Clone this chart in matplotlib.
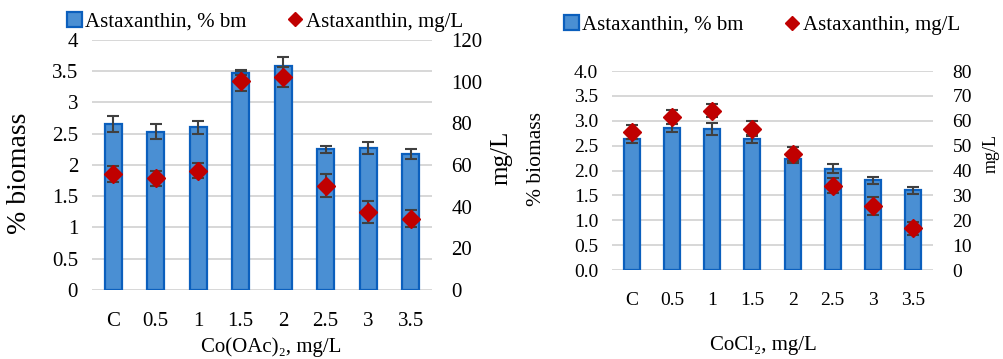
import matplotlib.pyplot as plt

plt.rcParams['font.family'] = ['Liberation Serif', 'DejaVu Serif']

doses = ['C', '0.5', '1', '1.5', '2', '2.5', '3', '3.5']

# Co(OAc)2 panel
oac_bm = [2.66, 2.53, 2.60, 3.47, 3.58, 2.25, 2.27, 2.18]
oac_bm_err = [0.13, 0.12, 0.10, 0.03, 0.14, 0.06, 0.10, 0.08]
oac_mg = [55.7, 53.6, 57.3, 100.5, 102.4, 50.1, 37.3, 34.2]
oac_mg_err = [3.7, 3.7, 3.6, 5.0, 4.8, 5.4, 5.2, 4.2]

# CoCl2 panel
cl_bm = [2.63, 2.85, 2.83, 2.63, 2.23, 2.04, 1.80, 1.60]
cl_bm_err = [0.08, 0.08, 0.12, 0.08, 0.08, 0.10, 0.07, 0.07]
cl_mg = [55.5, 61.5, 64.1, 56.8, 46.7, 33.9, 25.8, 16.7]
cl_mg_err = [2.8, 2.9, 2.7, 3.0, 2.8, 3.0, 3.6, 2.7]

bar_face = '#4a8fd3'
bar_edge = '#0b5fbd'
dot_col = '#c00000'
err_col = '#404040'
grid_col = '#d4d4d4'

fig = plt.figure(figsize=(10.04, 3.59), dpi=100)


def panel(rect, bm, bm_err, mg, mg_err, ylim1, yticks1, ylabels1, ylim2, yticks2,
          xlabel, fs, xlab_fs, ylab_fs, y2lab_fs, xlab_xy, ylab_xy, y2lab_xy, leg_xy):
    ax = fig.add_axes(rect)
    x = list(range(len(doses)))
    ax.bar(x, bm, width=0.4, color=bar_face, edgecolor=bar_edge, linewidth=1.6,
           zorder=2, label='Astaxanthin, % bm')
    ax.errorbar(x, bm, yerr=bm_err, fmt='none', ecolor=err_col, elinewidth=1.5,
                capsize=4, capthick=1.5, zorder=3)
    ax.set_xlim(-0.5, len(doses) - 0.5)
    ax.set_ylim(*ylim1)
    ax.set_yticks(yticks1)
    ax.set_yticklabels(ylabels1)
    ax.set_xticks(x)
    ax.set_xticklabels(doses)
    ax.yaxis.grid(True, color=grid_col, linewidth=1.3, zorder=0)
    ax.set_axisbelow(True)
    for s in ax.spines.values():
        s.set_visible(False)
    ax.tick_params(axis='both', length=0, labelsize=fs)
    ax.tick_params(axis='x', pad=16)
    ax.tick_params(axis='y', pad=10)

    ax2 = ax.twinx()
    ax2.errorbar(x, mg, yerr=mg_err, fmt='none', ecolor=err_col, elinewidth=1.5,
                 capsize=4, capthick=1.5, zorder=4)
    ax2.plot(x, mg, linestyle='none', marker='D', markersize=9, color=dot_col,
             zorder=5, label='Astaxanthin, mg/L')
    ax2.set_ylim(*ylim2)
    ax2.set_yticks(yticks2)
    for s in ax2.spines.values():
        s.set_visible(False)
    ax2.tick_params(axis='y', length=0, labelsize=fs, pad=14)

    ax.set_xlabel(xlabel, fontsize=xlab_fs)
    ax.xaxis.set_label_coords(*xlab_xy)
    ax.set_ylabel('% biomass', fontsize=ylab_fs)
    ax.yaxis.set_label_coords(*ylab_xy)
    ax2.set_ylabel('mg/L', fontsize=y2lab_fs, rotation=90)
    ax2.yaxis.set_label_coords(*y2lab_xy)

    h1, l1 = ax.get_legend_handles_labels()
    h2, l2 = ax2.get_legend_handles_labels()
    ax.legend(h1 + h2, l1 + l2, loc='center', bbox_to_anchor=leg_xy,
              bbox_transform=fig.transFigure, ncol=2, frameon=False,
              fontsize=15, handlelength=0.7, handleheight=0.7, handletextpad=0.15,
              columnspacing=2.0, borderpad=0, markerscale=0.8)
    return ax, ax2


panel([0.0916, 0.1922, 0.3386, 0.6964], oac_bm, oac_bm_err, oac_mg, oac_mg_err,
      (0, 4), [0, 0.5, 1, 1.5, 2, 2.5, 3, 3.5, 4],
      ['0', '0.5', '1', '1.5', '2', '2.5', '3', '3.5', '4'],
      (0, 120), [0, 20, 40, 60, 80, 100, 120],
      'Co(OAc)₂, mg/L', 15, 15, 20, 18,
      (0.528, -0.19), (-0.175, 0.468), (1.172, 0.528), (0.264, 0.939))

panel([0.6096, 0.2479, 0.3197, 0.5543], cl_bm, cl_bm_err, cl_mg, cl_mg_err,
      (0, 4), [0, 0.5, 1, 1.5, 2, 2.5, 3, 3.5, 4],
      ['0.0', '0.5', '1.0', '1.5', '2.0', '2.5', '3.0', '3.5', '4.0'],
      (0, 80), [0, 10, 20, 30, 40, 50, 60, 70, 80],
      'CoCl₂, mg/L', 14, 15, 15.5, 13,
      (0.472, -0.33), (-0.205, 0.558), (1.156, 0.583), (0.759, 0.930))

fig.savefig('out.png', dpi=100)
